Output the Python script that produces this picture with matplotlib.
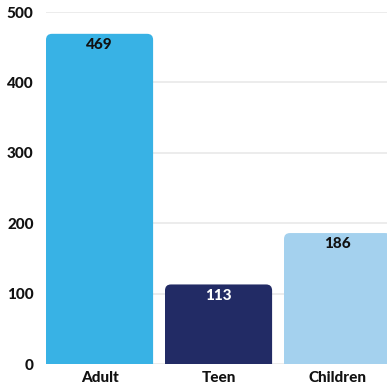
import matplotlib.pyplot as plt
from matplotlib.patches import FancyBboxPatch

categories = ["Adult", "Teen", "Children"]
values = [469, 113, 186]
colors = ["#38b2e5", "#222b65", "#a4d1ee"]
label_colors = ["#111111", "#ffffff", "#111111"]

plt.rcParams["font.family"] = ["Lato", "DejaVu Sans"]

fig = plt.figure(figsize=(3.87, 3.88), dpi=100)
ax = fig.add_axes([46 / 387, 24 / 388, 341 / 387, 352 / 388])

ax.set_xlim(-0.45, -0.45 + 341 / 119)
ax.set_ylim(0, 500)

width = 0.9
# pixels per data unit, used to keep the corner rounding circular
px_x = 119.0
px_y = 352 / 500
for i, (v, c, lc) in enumerate(zip(values, colors, label_colors)):
    r = 6 / px_x
    patch = FancyBboxPatch(
        (i - width / 2, -30), width, v + 30,
        boxstyle=f"round,pad=0,rounding_size={r}",
        mutation_aspect=px_x / px_y,
        facecolor=c, edgecolor="none", zorder=3,
    )
    ax.add_patch(patch)
    ax.text(i, v - 6, str(v), ha="center", va="top", color=lc,
            fontsize=11, fontweight="black", zorder=4)

ax.set_xticks(range(len(categories)))
ax.set_xticklabels(categories, fontsize=11, fontweight="black", color="#111111")
ax.set_yticks([0, 100, 200, 300, 400, 500])
ax.set_yticklabels(["0", "100", "200", "300", "400", "500"],
                   fontsize=11, fontweight="black", color="#111111")
ax.tick_params(length=0)
ax.tick_params(axis="y", pad=9)
ax.tick_params(axis="x", pad=5)

ax.grid(axis="y", color="#e9e9e9", linewidth=1.2, zorder=0)
ax.set_axisbelow(True)
for s in ax.spines.values():
    s.set_visible(False)

fig.savefig("out.png", dpi=100)
